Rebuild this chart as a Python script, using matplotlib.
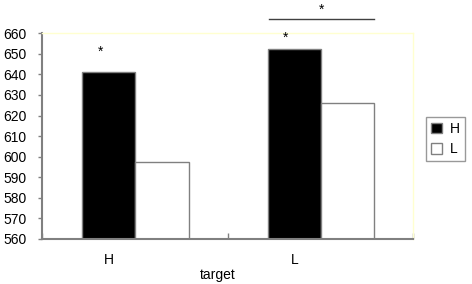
import matplotlib
matplotlib.use("Agg")
import matplotlib.pyplot as plt
from matplotlib.patches import Patch

plt.rcParams['font.family'] = ['Liberation Sans', 'DejaVu Sans']

# data
categories = ['H', 'L']
high_vals = [641.3, 652.2]
low_vals = [597.2, 625.9]
series_names = ['H', 'L']
star_vals = [651, 658]
bracket_y = 667
bracket_star_y = 671.5

fig = plt.figure(figsize=(4.72, 2.84), dpi=100)
ax = fig.add_axes([0.089, 0.1595, 0.786, 0.723])

grey = '#808080'
fs = 10
w = 0.287
offs_hi = 0.36
offs_lo = offs_hi + w
xs = range(len(categories))

ax.bar([i + offs_hi for i in xs], [v - 560 for v in high_vals], width=w, bottom=560,
       color='black', edgecolor=grey, linewidth=1)
ax.bar([i + offs_lo for i in xs], [v - 560 for v in low_vals], width=w, bottom=560,
       color='white', edgecolor=grey, linewidth=1)

# significance marks
for i, s in zip(xs, star_vals):
    ax.text(i + offs_hi - 0.045, s, '*', ha='center', va='center', fontsize=fs)
x0 = 1 + offs_hi - w / 2 + 0.005
x1 = 1 + offs_lo + w / 2
ax.plot([x0, x1], [bracket_y, bracket_y], color='#404040', lw=1, clip_on=False)
ax.text((x0 + x1) / 2, bracket_star_y, '*', ha='center', va='center', fontsize=fs,
        clip_on=False)

ax.set_xlim(0, 2)
ax.set_ylim(560, 660)
ax.set_yticks(range(560, 661, 10))
ax.set_xticks([i + offs_hi for i in xs])
ax.set_xticklabels(categories)
ax.set_xticks([0, 1, 2], minor=True)
ax.tick_params(axis='x', which='major', length=0, pad=10, labelsize=fs)
ax.tick_params(axis='x', which='minor', direction='in', length=4, color=grey, width=1)
ax.tick_params(axis='y', direction='out', length=3, color=grey, width=1, pad=8,
               labelsize=fs)

for side in ['left', 'bottom']:
    ax.spines[side].set_color(grey)
    ax.spines[side].set_linewidth(1.5)
for side in ['top', 'right']:
    ax.spines[side].set_color('#ffffd0')
    ax.spines[side].set_linewidth(1)

ax.set_xlabel('target', fontsize=fs)
ax.xaxis.set_label_coords(0.474, -0.145)

handles = [Patch(facecolor='black', edgecolor=grey, label=series_names[0]),
           Patch(facecolor='white', edgecolor=grey, label=series_names[1])]
leg = fig.legend(handles=handles, loc='upper left', bbox_to_anchor=(0.9025, 0.588),
                 fancybox=False, edgecolor=grey, fontsize=fs, handlelength=0.8,
                 handleheight=0.8, handletextpad=0.6, borderpad=0.35, labelspacing=0.45,
                 borderaxespad=0)
leg.get_frame().set_linewidth(1)

fig.savefig('out.png', dpi=100)
